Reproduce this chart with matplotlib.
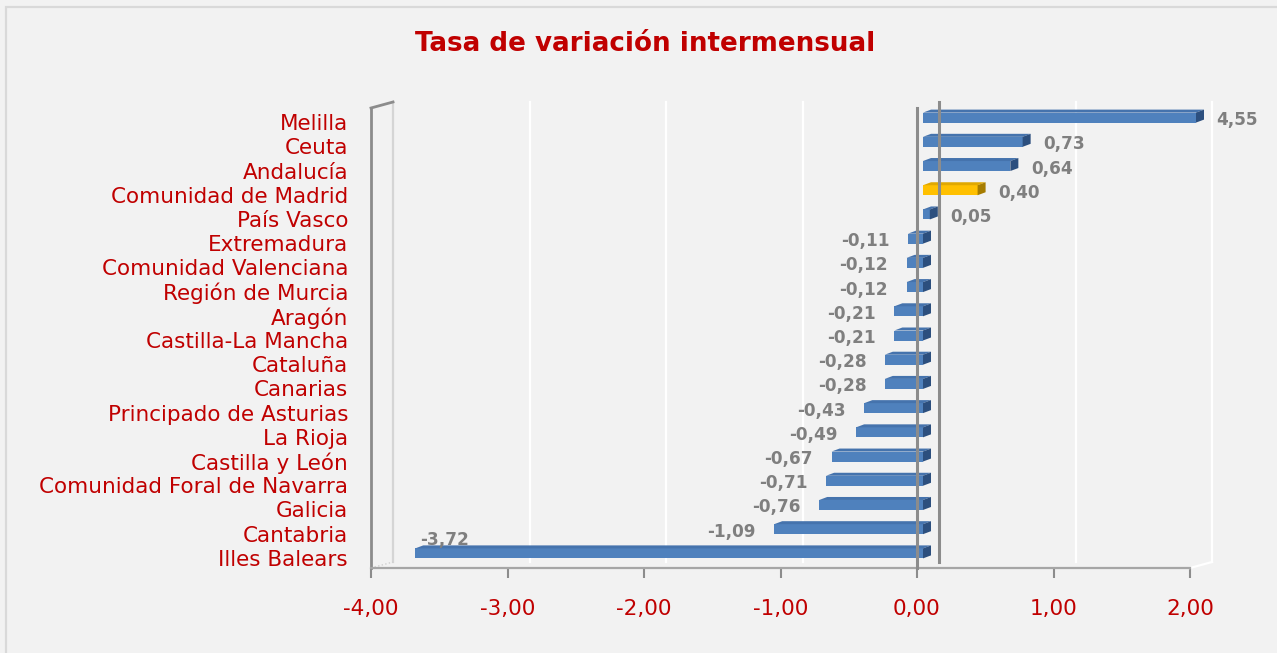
import matplotlib
matplotlib.use("Agg")
import matplotlib.pyplot as plt
import numpy as np
from matplotlib.patches import Polygon, Rectangle
from matplotlib.transforms import ScaledTranslation

# --- datos (de abajo hacia arriba) ---
regions = [
    "Illes Balears", "Cantabria", "Galicia", "Comunidad Foral de Navarra",
    "Castilla y León", "La Rioja", "Principado de Asturias", "Canarias",
    "Cataluña", "Castilla-La Mancha", "Aragón", "Región de Murcia",
    "Comunidad Valenciana", "Extremadura", "País Vasco",
    "Comunidad de Madrid", "Andalucía", "Ceuta", "Melilla",
]
values = [
    -3.72, -1.09, -0.76, -0.71, -0.67, -0.49, -0.43, -0.28, -0.28, -0.21,
    -0.21, -0.12, -0.12, -0.11, 0.05, 0.40, 0.64, 0.73, 4.55,
]
highlight = "Comunidad de Madrid"
x_ticks = [-4, -3, -2, -1, 0, 1, 2]
title = "Tasa de variación intermensual"

RED = "#C00000"
GREY_TXT = "#7F7F7F"
AXIS_GREY = "#8C8C8C"
BG = "#F2F2F2"

W, H = 1277, 653
XMIN, XMAX = x_ticks[0], x_ticks[-1]

fig = plt.figure(figsize=(W / 100, H / 100), dpi=100, facecolor=BG)
fig.patches.append(Rectangle((6 / W, -0.1), 1.2, 1.1 - 7.5 / H,
                             transform=fig.transFigure, fill=False,
                             edgecolor="#D9D9D9", linewidth=1.6))

ax = fig.add_axes([371 / W, (H - 568) / H, 819 / W, 460 / H])
n = len(regions)
ax.set_xlim(XMIN, XMAX)
ax.set_ylim(-0.5, n - 0.5)
ax.patch.set_visible(False)
for side in ("top", "right"):
    ax.spines[side].set_visible(False)
ax.spines["left"].set_color(AXIS_GREY)
ax.spines["left"].set_linewidth(2.0)
ax.spines["bottom"].set_color("#A6A6A6")
ax.spines["bottom"].set_linewidth(1.6)

# conversión píxel -> unidades de datos (para el efecto 3D)
px_x = (XMAX - XMIN) / 819
px_y = n / 460
back_dx, back_dy = 22 * px_x, 6 * px_y

# pared del fondo: líneas de rejilla blancas
y_lo, y_hi = -0.5, n - 0.5
for xt in x_ticks:
    if xt == 0:
        continue
    col = "white" if xt != XMIN else "#D5D5D5"
    ax.plot([xt + back_dx] * 2, [y_lo + back_dy, y_hi + back_dy],
            color=col, lw=1.6, zorder=1, clip_on=False)
# esquinas (suelo / pared)
ax.plot([XMIN, XMIN + back_dx], [y_hi, y_hi + back_dy], color=AXIS_GREY,
        lw=2.0, clip_on=False, zorder=2)
ax.plot([XMIN, XMIN + back_dx], [y_lo, y_lo + back_dy], color="#CFCFCF",
        lw=1.0, ls=":", clip_on=False, zorder=2)
ax.plot([XMAX, XMAX + back_dx], [y_lo, y_lo + back_dy], color="white",
        lw=1.6, clip_on=False, zorder=2)

# barras 3D
y = np.arange(n)
vals = np.array(values)
v_clip = np.clip(vals, XMIN, XMAX)
left = np.minimum(v_clip, 0)
right = np.maximum(v_clip, 0)
sx, sy = 6 * px_x, 2.5 * px_y
bh = 10 * px_y
d, u = 8 * px_x, 3 * px_y

face = ["#FFC000" if r == highlight else "#4F81BD" for r in regions]
top_c = ["#E0A800" if r == highlight else "#4573AD" for r in regions]
cap_c = ["#A67C00" if r == highlight else "#2C4F7E" for r in regions]

ax.barh(y + sy, right - left, left=left + sx, height=bh, color=face,
        zorder=3, clip_on=False)
for i in range(n):
    yb = y[i] + sy - bh / 2
    yt = y[i] + sy + bh / 2
    l, r = left[i] + sx, right[i] + sx
    ax.add_patch(Polygon([(l, yt), (r, yt), (r + d, yt + u), (l + d, yt + u)],
                         closed=True, color=top_c[i], zorder=3, clip_on=False,
                         lw=0))
    ax.add_patch(Polygon([(r, yb), (r, yt), (r + d, yt + u), (r + d, yb + u)],
                         closed=True, color=cap_c[i], zorder=3, clip_on=False,
                         lw=0))

# líneas del cero (frontal y fondo)
ax.plot([0, 0], [y_lo, y_hi], color=AXIS_GREY, lw=2.2, zorder=5, clip_on=False)
ax.plot([back_dx] * 2, [y_lo + back_dy, y_hi + back_dy], color=AXIS_GREY,
        lw=2.2, zorder=5, clip_on=False)

# etiquetas de valor
for i, v in enumerate(values):
    txt = f"{v:.2f}".replace(".", ",")
    if v < XMIN + 0.5:
        ax.annotate(txt, (v, y[i]), xytext=(11 * 0.72, 16 * 0.72),
                    textcoords="offset points", ha="left", va="center",
                    fontsize=12.2, fontweight="bold", color=GREY_TXT,
                    annotation_clip=False)
    elif v >= 0:
        ax.annotate(txt, (min(v, XMAX), y[i]), xytext=(26.5 * 0.72, 0),
                    textcoords="offset points", ha="left", va="center",
                    fontsize=12.2, fontweight="bold", color=GREY_TXT,
                    annotation_clip=False)
    else:
        ax.annotate(txt, (v, y[i]), xytext=(-12.5 * 0.72, 0),
                    textcoords="offset points", ha="right", va="center",
                    fontsize=12.2, fontweight="bold", color=GREY_TXT,
                    annotation_clip=False)

ax.set_yticks(y, regions)
ax.tick_params(axis="y", length=0, pad=16.5, labelsize=15.5, labelcolor=RED)
down = ScaledTranslation(0, -2 / 100, fig.dpi_scale_trans)
for lab in ax.get_yticklabels():
    lab.set_transform(lab.get_transform() + down)
ax.set_xticks(x_ticks, [f"{t:.2f}".replace(".", ",") for t in x_ticks])
ax.tick_params(axis="x", length=7.2, width=1.5, color=AXIS_GREY,
               labelsize=15.5, labelcolor=RED, pad=15)

fig.text(645 / W, 1 - 44 / H, title, ha="center", va="center",
         fontsize=18.8, fontweight="bold", color=RED)

fig.savefig("out.png", dpi=100, facecolor=BG)
